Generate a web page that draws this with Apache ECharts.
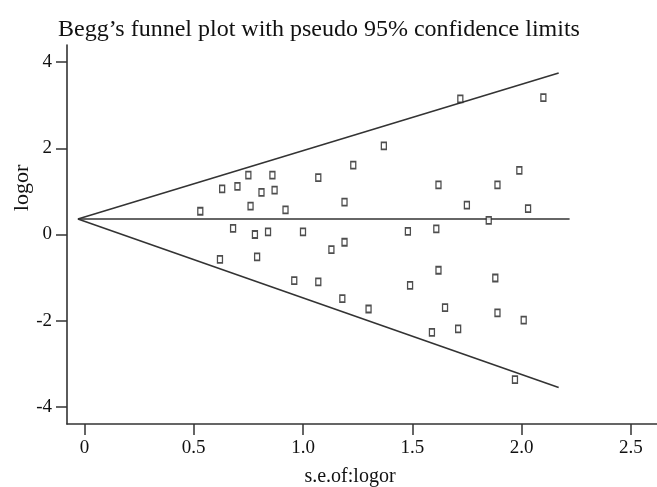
<!DOCTYPE html>
<html>
<head>
<meta charset="utf-8">
<script src="https://cdn.jsdelivr.net/npm/echarts@6/dist/echarts.min.js"></script>
<style>html,body{margin:0;padding:0;background:#fff}#c{width:657px;height:487px}</style>
</head>
<body>
<div id="c"></div>
<script>
const titleText = 'Begg\u2019s funnel plot with pseudo 95% confidence limits';
const xAxisTitle = 's.e.of:logor';
const yAxisTitle = 'logor';
const xTickValues = [0, 0.5, 1.0, 1.5, 2.0, 2.5];
const yTickValues = [-4, -2, 0, 2, 4];
// study points: standard error of logor (x) and logor (y)
const seValues = [0.53,0.63,0.70,0.75,0.86,0.81,0.87,0.76,0.92,1.07,1.23,1.19,
  0.68,0.78,0.84,1.00,1.13,1.19,0.62,0.79,0.96,1.07,1.18,1.30,
  1.72,2.10,1.37,1.99,1.62,1.89,1.75,2.03,1.85,1.48,1.61,1.62,1.49,1.88,
  1.65,1.89,2.01,1.59,1.71,1.97];
const logorValues = [0.54,1.06,1.12,1.38,1.38,0.98,1.03,0.66,0.57,1.32,1.61,0.75,
  0.14,0.00,0.06,0.06,-0.35,-0.18,-0.58,-0.52,-1.07,-1.10,-1.49,-1.73,
  3.15,3.18,2.06,1.49,1.15,1.15,0.68,0.60,0.33,0.07,0.13,-0.83,-1.18,-1.01,
  -1.70,-1.82,-1.99,-2.27,-2.19,-3.37];
// pseudo confidence limits and pooled estimate
const limitSe = [-0.03, 2.17];
const upperLimit = [0.36, 3.75];
const lowerLimit = [0.36, -3.55];
const pooledSe = [-0.03, 2.22];
const pooledLogor = [0.36, 0.36];

const pts = seValues.map((s, i) => [s, logorValues[i]]);
const zip = (a, b) => a.map((v, i) => [v, b[i]]);
const lineCol = '#333';
const font = '"Liberation Serif", "DejaVu Serif", serif';

const chart = echarts.init(document.getElementById('c'));
chart.setOption({
  animation: false,
  backgroundColor: '#fff',
  title: {
    text: titleText, left: 53, top: 13,
    textStyle: {fontFamily: font, fontSize: 24, fontWeight: 'normal', color: '#111'}
  },
  grid: {left: 67, right: 0, top: 45, bottom: 63},
  xAxis: {
    type: 'value', min: -0.08, max: 2.62,
    splitLine: {show: false},
    axisLine: {show: true, onZero: false, lineStyle: {color: lineCol, width: 1.6}},
    axisTick: {show: true, length: 11, customValues: xTickValues, lineStyle: {color: lineCol, width: 1.5}},
    axisLabel: {customValues: xTickValues, margin: 15, fontFamily: font, fontSize: 19, color: '#111',
      formatter: v => v === 0 ? '0' : v.toFixed(1)}
  },
  yAxis: {
    type: 'value', min: -4.4, max: 4.4,
    splitLine: {show: false},
    axisLine: {show: true, onZero: false, lineStyle: {color: lineCol, width: 1.6}},
    axisTick: {show: true, length: 11, customValues: yTickValues, lineStyle: {color: lineCol, width: 1.5}},
    axisLabel: {customValues: yTickValues, margin: 15, fontFamily: font, fontSize: 19, color: '#111'}
  },
  graphic: [{
    type: 'text', x: 22, y: 188, rotation: Math.PI / 2,
    style: {text: yAxisTitle, fontFamily: font, fontSize: 22, fill: '#111', align: 'center', verticalAlign: 'middle'}
  }, {
    type: 'text', x: 350, y: 477,
    style: {text: xAxisTitle, fontFamily: font, fontSize: 20, fill: '#111', align: 'center', verticalAlign: 'middle'}
  }],
  series: [
    {type: 'line', data: zip(limitSe, upperLimit), symbol: 'none', lineStyle: {color: lineCol, width: 1.6}, z: 2},
    {type: 'line', data: zip(limitSe, lowerLimit), symbol: 'none', lineStyle: {color: lineCol, width: 1.6}, z: 2},
    {type: 'line', data: zip(pooledSe, pooledLogor), symbol: 'none', lineStyle: {color: lineCol, width: 1.6}, z: 2},
    {type: 'scatter', data: pts, symbol: 'rect', symbolSize: [5, 7],
      itemStyle: {color: '#fff', borderColor: '#222', borderWidth: 1.5}, z: 3}
  ]
});
</script>
</body>
</html>
